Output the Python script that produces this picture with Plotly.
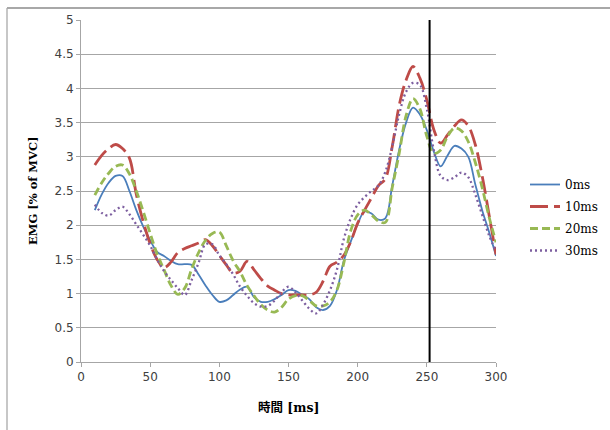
import plotly.graph_objects as go

# time axis (ms)
time_ms = [10, 15, 20, 25, 30, 35, 40, 45, 50, 55, 60, 65, 70, 75, 80, 85, 90, 95, 100,
           105, 110, 115, 120, 125, 130, 135, 140, 145, 150, 155, 160, 165, 170, 175, 180,
           185, 190, 195, 200, 205, 210, 215, 220, 225, 230, 235, 240, 245, 250, 255, 260,
           265, 270, 275, 280, 285, 290, 295, 300]

emg_0ms = [2.22, 2.45, 2.62, 2.72, 2.72, 2.50, 2.22, 1.98, 1.78, 1.61, 1.55, 1.48, 1.43, 1.43, 1.42,
           1.28, 1.12, 0.98, 0.88, 0.90, 0.98, 1.06, 1.10, 0.95, 0.88, 0.88, 0.92, 0.98, 1.05,
           1.04, 0.98, 0.92, 0.80, 0.76, 0.82, 1.05, 1.48, 1.76, 2.02, 2.20, 2.17, 2.08, 2.10,
           2.58, 3.10, 3.50, 3.72, 3.62, 3.39, 3.08, 2.86, 3.02, 3.16, 3.12, 3.00, 2.60, 2.22,
           1.90, 1.55]

emg_10ms = [2.88, 3.02, 3.12, 3.18, 3.12, 2.98, 2.45, 2.05, 1.73, 1.50, 1.38, 1.46, 1.60, 1.66, 1.70,
            1.74, 1.79, 1.70, 1.56, 1.42, 1.30, 1.33, 1.47, 1.35, 1.22, 1.11, 1.05, 1.00, 0.98,
            0.98, 0.98, 0.98, 1.02, 1.18, 1.40, 1.46, 1.56, 1.76, 2.03, 2.22, 2.40, 2.58, 2.68,
            3.15, 3.75, 4.12, 4.32, 4.15, 3.83, 3.40, 3.20, 3.32, 3.45, 3.54, 3.45, 3.18, 2.72,
            2.15, 1.57]

emg_20ms = [2.44, 2.62, 2.76, 2.86, 2.88, 2.75, 2.50, 2.20, 1.88, 1.58, 1.35, 1.12, 0.99, 1.08, 1.36,
            1.60, 1.78, 1.88, 1.90, 1.70, 1.48, 1.32, 1.12, 0.97, 0.84, 0.76, 0.73, 0.80, 0.92,
            0.97, 0.97, 0.90, 0.82, 0.82, 0.88, 1.05, 1.45, 1.92, 2.15, 2.22, 2.15, 2.06, 2.04,
            2.55, 3.05, 3.60, 3.85, 3.70, 3.30, 3.05, 3.10, 3.30, 3.42, 3.38, 3.22, 2.92, 2.55,
            2.12, 1.75]

emg_30ms = [2.30, 2.18, 2.14, 2.22, 2.27, 2.16, 2.01, 1.86, 1.70, 1.50, 1.33, 1.20, 1.08, 0.98, 1.20,
            1.45, 1.72, 1.72, 1.56, 1.43, 1.28, 1.10, 0.97, 0.86, 0.81, 0.82, 0.90, 1.02, 1.10,
            1.02, 0.90, 0.78, 0.71, 0.84, 1.05, 1.35, 1.80, 2.10, 2.30, 2.41, 2.50, 2.58, 2.78,
            3.15, 3.62, 3.95, 4.08, 4.05, 3.70, 3.10, 2.72, 2.66, 2.70, 2.77, 2.70, 2.45, 2.15,
            1.85, 1.62]

series_names = ["0ms", "10ms", "20ms", "30ms"]
series_values = [emg_0ms, emg_10ms, emg_20ms, emg_30ms]
series_colors = ["#4a7ebb", "#be4b48", "#98b954", "#7d5fa0"]
series_widths = [1.8, 2.8, 2.8, 2.3]
series_dash = ["solid", "18px,6px", "8px,4px", "2px,3px"]

marker_time = 252  # vertical reference line (ms)

x_ticks = [0, 50, 100, 150, 200, 250, 300]
y_ticks = [0, 0.5, 1, 1.5, 2, 2.5, 3, 3.5, 4, 4.5, 5]

fig = go.Figure()
for i, (name, vals) in enumerate(zip(series_names, series_values)):
    fig.add_trace(go.Scatter(
        x=time_ms, y=vals, name=name, mode="lines", legendgroup=name,
        line=dict(color=series_colors[i], width=series_widths[i],
                  dash=series_dash[i], shape="spline", smoothing=1.0),
    ))

fig.add_shape(type="line", xref="x", yref="y", x0=marker_time, x1=marker_time,
              y0=0, y1=5, line=dict(color="black", width=2))

# outer chart frame (left and top edges visible; right/bottom lie outside the window)
fx = (7 - 81) / 415
fy = (362 - 8) / 342
fig.add_shape(type="line", xref="paper", yref="paper", x0=fx, x1=fx, y0=-0.3, y1=fy,
              line=dict(color="#b4b4b4", width=1.5))
fig.add_shape(type="line", xref="paper", yref="paper", x0=fx, x1=1.3, y0=fy, y1=fy,
              line=dict(color="#a8a8a8", width=2))

tickfont = dict(family="DejaVu Sans", size=12, color="#404040")
fig.update_xaxes(range=[0, 300], tickvals=x_ticks, ticktext=[str(v) for v in x_ticks],
                 showgrid=False, zeroline=False, showline=True, linecolor="#a6a6a6",
                 linewidth=1, ticks="outside", ticklen=4, tickcolor="#a6a6a6",
                 tickfont=tickfont, automargin=False)
fig.update_yaxes(range=[0, 5], tickvals=y_ticks, ticktext=[f"{v:g}" for v in y_ticks],
                 showgrid=True, gridcolor="#a6a6a6", gridwidth=1, zeroline=False,
                 showline=True, linecolor="#a6a6a6", linewidth=1, ticks="outside",
                 ticklen=4, tickcolor="#a6a6a6", tickfont=tickfont, automargin=False)

fig.add_annotation(text="<b>時間 [ms]</b>", xref="paper", yref="paper", x=0.5,
                   y=(362 - 407) / 342, xanchor="center", yanchor="middle", showarrow=False,
                   font=dict(family="DejaVu Serif, Noto Sans CJK JP", size=12.5, color="#000000"))
fig.add_annotation(text="<b>EMG [% of MVC]</b>", xref="paper", yref="paper",
                   x=(33 - 81) / 415, y=0.5, xanchor="center", yanchor="middle",
                   textangle=-90, showarrow=False,
                   font=dict(family="DejaVu Serif", size=11.5, color="#000000"))

fig.update_layout(
    width=610, height=430,
    margin=dict(l=81, r=114, t=20, b=68, autoexpand=False),
    paper_bgcolor="white", plot_bgcolor="white",
    showlegend=True,
    legend=dict(x=(525 - 81) / 415, y=(362 - 170) / 342, xanchor="left", yanchor="top",
                font=dict(family="DejaVu Serif", size=12, color="#000000"),
                tracegroupgap=3, bgcolor="rgba(0,0,0,0)", borderwidth=0),
)

# remove the default 8px page margin so the figure sits at the window origin
fig.write_html("out.html", config={"displayModeBar": False},
               post_script="document.body.style.margin='0px';"
                           "document.documentElement.style.overflow='hidden';"
                           "window.scrollTo(0,0);")
